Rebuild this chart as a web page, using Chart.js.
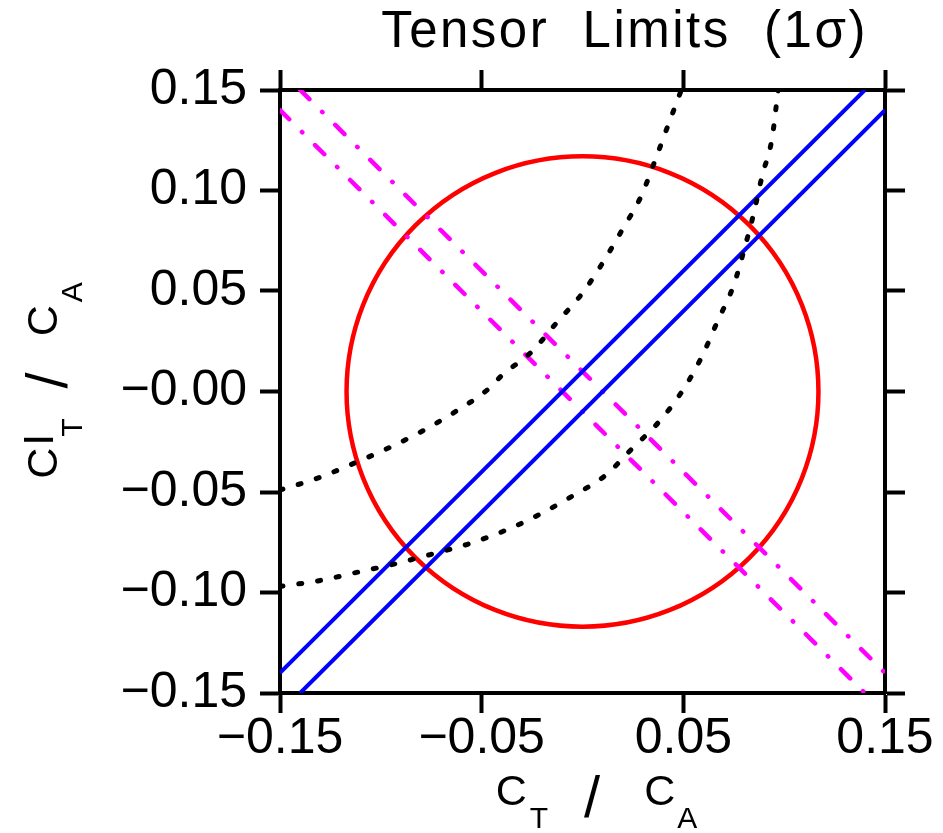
<!DOCTYPE html>
<html>
<head>
<meta charset="utf-8">
<title>Tensor Limits</title>
<script src="https://cdn.jsdelivr.net/npm/chart.js@4.4.1/dist/chart.umd.min.js"></script>
<style>
    html, body { margin: 0; padding: 0; background: #fff; }
    canvas { display: block; }
</style>
</head>
<body>
<canvas id="tensor-chart" width="943" height="833"></canvas>
<script>
// axis ticks
const xTicks = [-0.15, -0.05, 0.05, 0.15];
const xTickLabels = ['\u22120.15', '\u22120.05', '0.05', '0.15'];
const yTicks = [-0.15, -0.10, -0.05, 0, 0.05, 0.10, 0.15];
const yTickLabels = ['\u22120.15', '\u22120.10', '\u22120.05', '\u22120.00', '0.05', '0.10', '0.15'];

// 1 sigma circle
const circleCentre = [0, 0];
const circleRadius = 0.117;

// blue band (slope +1)
const blueUpperX = [-0.15, 0.14];
const blueUpperY = [-0.14, 0.15];
const blueLowerX = [-0.14, 0.15];
const blueLowerY = [-0.15, 0.14];

// magenta band (slope -1)
const magentaUpperX = [-0.14, 0.15];
const magentaUpperY = [0.15, -0.14];
const magentaLowerX = [-0.15, 0.14];
const magentaLowerY = [0.14, -0.15];

// dotted limit curves
const innerCurveX = [-0.150, -0.131, -0.114, -0.096, -0.080, -0.063, -0.047, -0.040, -0.025, -0.013, 0.000, 0.010, 0.020, 0.029, 0.036, 0.043, 0.049];
const innerCurveY = [-0.049, -0.043, -0.036, -0.028, -0.020, -0.010, 0.001, 0.008, 0.020, 0.034, 0.049, 0.064, 0.081, 0.097, 0.115, 0.134, 0.150];
const outerCurveX = [-0.150, -0.130, -0.112, -0.094, -0.075, -0.057, -0.038, -0.021, -0.005, 0.011, 0.025, 0.038, 0.050, 0.059, 0.067, 0.075, 0.080, 0.085, 0.089, 0.094, 0.097];
const outerCurveY = [-0.097, -0.094, -0.090, -0.086, -0.081, -0.076, -0.069, -0.061, -0.052, -0.042, -0.028, -0.015, 0.001, 0.017, 0.035, 0.053, 0.070, 0.089, 0.107, 0.126, 0.150];

const FONT = '"Liberation Sans", Arial, sans-serif';

const toPoints = (xs, ys) => xs.map((x, i) => ({ x, y: ys[i] }));

const lineSet = (xs, ys, color, extra) => Object.assign({
    data: toPoints(xs, ys),
    showLine: true,
    borderColor: color,
    borderWidth: 4,
    pointRadius: 0,
    fill: false
}, extra);

const dashDot = [13, 18, 0.5, 18];
const dotted = [3, 16];

// one linear axis, ticks pointing outwards from the frame
const frameAxis = (position, ticks, labels, size) => {
    const horizontal = position === 'top' || position === 'bottom';
    return {
        type: 'linear',
        position,
        min: -0.15,
        max: 0.15,
        afterBuildTicks: (scale) => {
            scale.ticks = ticks.map(v => ({ value: v }));
        },
        afterFit: (scale) => {
            if (horizontal) scale.height = size;
            else scale.width = size;
        },
        grid: {
            drawOnChartArea: false,
            drawTicks: true,
            tickLength: 20,
            tickWidth: 4,
            tickColor: '#000'
        },
        border: { display: true, width: 4, color: '#000' },
        ticks: labels ? {
            autoSkip: false,
            maxRotation: 0,
            minRotation: 0,
            padding: horizontal ? -4 : 13,
            color: '#000',
            font: { family: FONT, size: 50 },
            callback: (value, index) => labels[index]
        } : { display: false }
    };
};

// red circle, sized through the scales
const circleOutline = {
    id: 'circleOutline',
    beforeDatasetsDraw(chart) {
        const { ctx, scales: { x, y } } = chart;
        const cx = x.getPixelForValue(circleCentre[0]);
        const cy = y.getPixelForValue(circleCentre[1]);
        const rx = x.getPixelForValue(circleCentre[0] + circleRadius) - cx;
        const ry = cy - y.getPixelForValue(circleCentre[1] + circleRadius);
        ctx.save();
        ctx.beginPath();
        ctx.ellipse(cx, cy, rx, ry, 0, 0, Math.PI * 2);
        ctx.strokeStyle = '#ff0000';
        ctx.lineWidth = 4.5;
        ctx.stroke();
        ctx.restore();
    }
};

// text runs with sub/superscripts, centred on `centre`
const drawParts = (ctx, parts, centre, baseline) => {
    let total = 0;
    parts.forEach(p => {
        ctx.font = `${p.size}px ${FONT}`;
        p.w = ctx.measureText(p.text).width;
        total += p.gap + p.w;
    });
    let pos = centre - total / 2;
    parts.forEach(p => {
        pos += p.gap;
        ctx.font = `${p.size}px ${FONT}`;
        ctx.fillText(p.text, pos, baseline + p.dy);
        pos += p.w;
    });
};

const xTitle = [
    { text: 'C', size: 43, dy: 0, gap: 0 },
    { text: 'T', size: 30, dy: 23, gap: 3 },
    { text: '/', size: 58, dy: 12, gap: 36 },
    { text: 'C', size: 43, dy: 0, gap: 44 },
    { text: 'A', size: 30, dy: 23, gap: 2 }
];

const yTitle = [
    { text: 'C', size: 43, dy: 0, gap: 0 },
    { text: 'I', size: 43, dy: -4, gap: 2 },
    { text: 'T', size: 30, dy: 25, gap: -3 },
    { text: '/', size: 58, dy: 10, gap: 30 },
    { text: 'C', size: 43, dy: 0, gap: 36 },
    { text: 'A', size: 30, dy: 25, gap: 3 }
];

const plotLabels = {
    id: 'plotLabels',
    afterDraw(chart) {
        const { ctx, chartArea } = chart;
        const midX = (chartArea.left + chartArea.right) / 2;
        const midY = (chartArea.top + chartArea.bottom) / 2;
        ctx.save();
        ctx.fillStyle = '#000';
        ctx.textBaseline = 'alphabetic';

        // title
        ctx.font = `51px ${FONT}`;
        ctx.letterSpacing = '2.5px';
        ctx.textAlign = 'center';
        ctx.fillText('Tensor  Limits  (1\u03c3)', midX + 42, 47);
        ctx.letterSpacing = '0px';
        ctx.textAlign = 'left';

        // x title under the bottom labels
        drawParts(ctx, xTitle, midX + 14, 805);

        // y title, rotated to read upwards
        ctx.translate(57, midY - 11);
        ctx.rotate(-Math.PI / 2);
        drawParts(ctx, yTitle, 0, 0);
        ctx.restore();
    }
};

new Chart(document.getElementById('tensor-chart').getContext('2d'), {
    type: 'scatter',
    data: {
        datasets: [
            lineSet(innerCurveX, innerCurveY, '#000', { borderDash: dotted, borderCapStyle: 'round', cubicInterpolationMode: 'monotone', borderWidth: 5 }),
            lineSet(outerCurveX, outerCurveY, '#000', { borderDash: dotted, borderCapStyle: 'round', cubicInterpolationMode: 'monotone', borderWidth: 5 }),
            lineSet(blueUpperX, blueUpperY, '#0000ff', { borderWidth: 4 }),
            lineSet(blueLowerX, blueLowerY, '#0000ff', { borderWidth: 4 }),
            lineSet(magentaUpperX, magentaUpperY, '#ff00ff', { borderDash: dashDot, borderCapStyle: 'round', borderWidth: 4.5 }),
            lineSet(magentaLowerX, magentaLowerY, '#ff00ff', { borderDash: dashDot, borderCapStyle: 'round', borderWidth: 4.5 })
        ]
    },
    options: {
        responsive: false,
        animation: false,
        devicePixelRatio: 1,
        layout: { padding: 0 },
        plugins: {
            legend: { display: false },
            tooltip: { enabled: false },
            title: { display: false }
        },
        scales: {
            x: frameAxis('bottom', xTicks, xTickLabels, 140),
            x2: frameAxis('top', xTicks, null, 90),
            y: frameAxis('left', yTicks, yTickLabels, 280),
            y2: frameAxis('right', yTicks, null, 58)
        }
    },
    plugins: [circleOutline, plotLabels]
});
</script>
</body>
</html>
